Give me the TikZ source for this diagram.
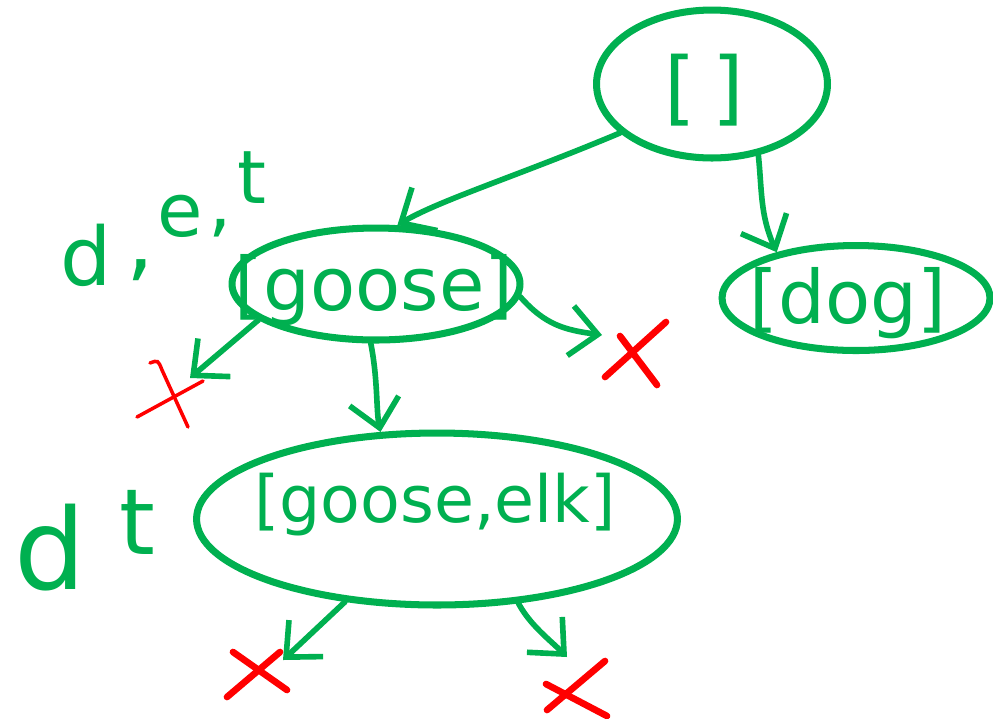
\documentclass[tikz,border=0pt]{standalone}
\usepackage{fontspec}
\setmainfont{DejaVu Sans}
\usetikzlibrary{shapes.geometric,arrows.meta}
\definecolor{ink}{RGB}{0,176,80}
\definecolor{cross}{RGB}{255,0,0}
\begin{document}
\begin{tikzpicture}[x=0.02cm,y=-0.02cm,
  state/.style={ellipse, draw=ink, line width=4pt, inner sep=0pt},
  word/.style={text=ink, inner sep=0pt, font=\fontsize{42}{42}\selectfont},
  arr/.style={draw=ink, line width=3.2pt, line cap=round,
    -{Straight Barb[length=0.55cm,width=1cm,line width=3.2pt]}},
  xmark/.style={draw=cross, line width=3.8pt, line cap=round},
  thinx/.style={draw=cross, line width=2pt, line cap=round}]
\useasboundingbox (0,0) rectangle (993,718);

% states of the search tree
\node[state, minimum width=4.62cm, minimum height=2.96cm] (root) at (712,84) {};
\node[state, minimum width=5.76cm, minimum height=2.24cm] (goose) at (376,284) {};
\node[state, minimum width=5.36cm, minimum height=2.10cm] (dog) at (856,298) {};
\node[state, minimum width=9.62cm, minimum height=3.44cm] (ge) at (437,519) {};

\node[word, font=\fontsize{46}{46}\selectfont] (rootlbl) at (704,90) {[\hspace{0.2em}]};
\node[word] (gooselbl) at (374,290) {[goose]};
\node[word] (doglbl) at (848,303) {[dog]};
\node[word, font=\fontsize{37}{37}\selectfont] (gelbl) at (435,505) {[goose,elk]};

% letters tried at each level
\node[word, font=\fontsize{46}{46}\selectfont] (l1) at (86,255) {d};
\node[word, font=\fontsize{50}{50}\selectfont] (c1) at (140,270) {,};
\node[word] (l2) at (180,216) {e};
\node[word, font=\fontsize{42}{42}\selectfont] (c2) at (220,228) {,};
\node[word] (l3) at (252,178) {t};
\node[word, font=\fontsize{64}{64}\selectfont] (l4) at (50,548) {d};
\node[word, font=\fontsize{52}{52}\selectfont] (l5) at (137,522) {t};

% dead-end marks
\draw[thinx] (150,363) .. controls (158,360) .. (162,370) -- (188,427);
\draw[thinx] (137,417) -- (203,381);
\draw[xmark] (620,336) -- (657,385);
\draw[xmark] (666,322) -- (605,377);
\draw[xmark] (233,652) -- (287,690);
\draw[xmark] (227,697) -- (280,652);
\draw[xmark] (546,684) -- (607,716);
\draw[xmark] (547,710) -- (605,661);

% branches
\coordinate (t1) at (190,378);
\coordinate (t2) at (602,335);
\coordinate (t3) at (283,660);
\coordinate (t4) at (567,657);
\draw[arr] (root.208) .. controls (520,175) and (440,200) .. (goose.70);
\draw[arr] (root.303) .. controls (762,190) and (760,215) .. (dog.150);
\draw[arr] (goose.197) -- (t1);
\draw[arr] (goose.355) .. controls (545,325) and (565,330) .. (t2);
\draw[arr] (goose.265) .. controls (378,380) and (376,410) .. (ge.123);
\draw[arr] (ge.222) -- (t3);
\draw[arr] (ge.314) .. controls (530,625) and (550,640) .. (t4);
\end{tikzpicture}
\end{document}
